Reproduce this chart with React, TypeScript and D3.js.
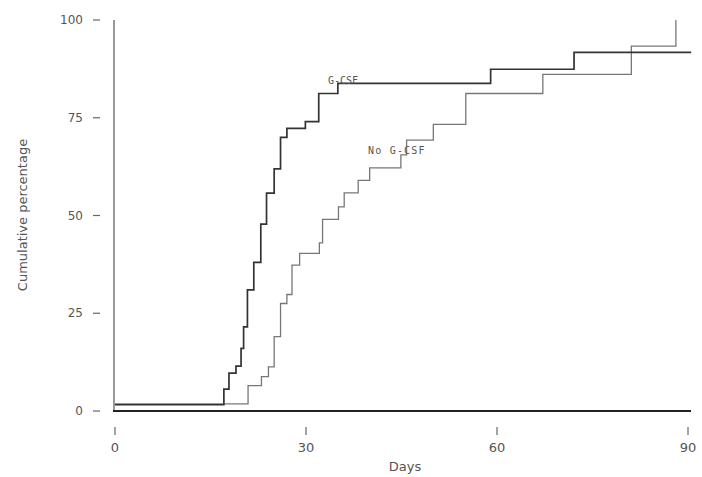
import React, { useEffect, useRef } from 'react'
import * as d3 from 'd3'

// G-CSF group: day of step and cumulative % after the step
const gcsfDays = [0, 17.1, 17.9, 19.0, 19.8, 20.2, 20.8, 21.8, 22.9, 23.8, 25.0, 26.0, 27.0, 29.9, 32.0, 35.0, 59.0, 72.1, 90.5]
const gcsfPct = [1.6, 5.6, 9.7, 11.5, 16, 21.5, 31, 38, 47.8, 55.7, 61.9, 70, 72.3, 74, 81.2, 83.8, 87.4, 91.7, 91.7]

// No G-CSF group
const noGcsfDays = [0, 20.9, 23.0, 24.1, 25.0, 26.0, 27.0, 27.8, 29.0, 32.1, 32.6, 35.1, 36.0, 38.2, 40.0, 44.9, 45.8, 50.0, 55.1, 67.2, 81.1, 88.1]
const noGcsfPct = [1.8, 6.5, 8.8, 11.3, 19, 27.5, 29.8, 37.3, 40.3, 43, 49, 52.2, 55.8, 59, 62.2, 65.5, 69.3, 73.3, 81.2, 86.1, 93.3, 100]

const xTicks = [0, 30, 60, 90]
const yTicks = [0, 25, 50, 75, 100]

export default function App() {
  const ref = useRef<SVGSVGElement>(null)

  useEffect(() => {
    const svg = d3.select(ref.current)
    svg.selectAll('*').remove()

    const x = d3.scaleLinear().domain([0, 90]).range([115, 688])
    const y = d3.scaleLinear().domain([0, 100]).range([411, 20])
    const font = 'DejaVu Sans, sans-serif'

    // y axis line
    svg.append('line')
      .attr('x1', x(0) - 1).attr('x2', x(0) - 1)
      .attr('y1', y(100)).attr('y2', y(0))
      .attr('stroke', '#777').attr('stroke-width', 1.5)

    // x axis line
    svg.append('line')
      .attr('x1', 113).attr('x2', 691)
      .attr('y1', y(0)).attr('y2', y(0))
      .attr('stroke', '#222').attr('stroke-width', 2)

    // y ticks
    const yt = svg.append('g')
    yt.selectAll('line').data(yTicks).enter().append('line')
      .attr('x1', 93).attr('x2', 100)
      .attr('y1', d => y(d)).attr('y2', d => y(d))
      .attr('stroke', '#666').attr('stroke-width', 1.2)
    yt.selectAll('text').data(yTicks).enter().append('text')
      .attr('x', 83).attr('y', d => y(d))
      .attr('dy', '0.35em')
      .attr('text-anchor', 'end')
      .attr('font-family', font).attr('font-size', 12)
      .attr('fill', '#555')
      .text(d => d)

    // x ticks
    const xt = svg.append('g')
    xt.selectAll('line').data(xTicks).enter().append('line')
      .attr('x1', d => x(d)).attr('x2', d => x(d))
      .attr('y1', 427).attr('y2', 435)
      .attr('stroke', '#666').attr('stroke-width', 1.2)
    xt.selectAll('text').data(xTicks).enter().append('text')
      .attr('x', d => x(d)).attr('y', 452)
      .attr('text-anchor', 'middle')
      .attr('font-family', font).attr('font-size', 13)
      .attr('fill', '#555')
      .text(d => d)

    // axis labels
    svg.append('text')
      .attr('x', 405).attr('y', 471)
      .attr('text-anchor', 'middle')
      .attr('font-family', font).attr('font-size', 13)
      .attr('fill', '#555')
      .text('Days')
    svg.append('text')
      .attr('transform', 'translate(27,215) rotate(-90)')
      .attr('text-anchor', 'middle')
      .attr('font-family', font).attr('font-size', 13)
      .attr('fill', '#555')
      .text('Cumulative percentage')

    const line = d3.line<[number, number]>()
      .x(d => x(d[0]))
      .y(d => y(d[1]))
      .curve(d3.curveStepAfter)

    const noPts = noGcsfDays.map((d, i) => [d, noGcsfPct[i]] as [number, number])
    const gPts = gcsfDays.map((d, i) => [d, gcsfPct[i]] as [number, number])

    svg.append('path')
      .attr('d', line(noPts))
      .attr('fill', 'none')
      .attr('stroke', '#777')
      .attr('stroke-width', 1.3)

    svg.append('path')
      .attr('d', line(gPts))
      .attr('fill', 'none')
      .attr('stroke', '#333')
      .attr('stroke-width', 1.7)

    // curve labels
    svg.append('text')
      .attr('x', 328).attr('y', 84)
      .attr('font-family', 'DejaVu Sans Mono, monospace').attr('font-size', 10)
      .attr('fill', '#555')
      .text('G-CSF')
    svg.append('text')
      .attr('x', 368).attr('y', 154)
      .attr('font-family', 'DejaVu Sans Mono, monospace').attr('font-size', 10)
      .attr('letter-spacing', 1.2)
      .attr('fill', '#555')
      .text('No G-CSF')
  }, [])

  return (
    <svg
      ref={ref}
      width={702}
      height={477}
      style={{ position: 'absolute', left: 0, top: 0, background: '#fff' }}
    />
  )
}
